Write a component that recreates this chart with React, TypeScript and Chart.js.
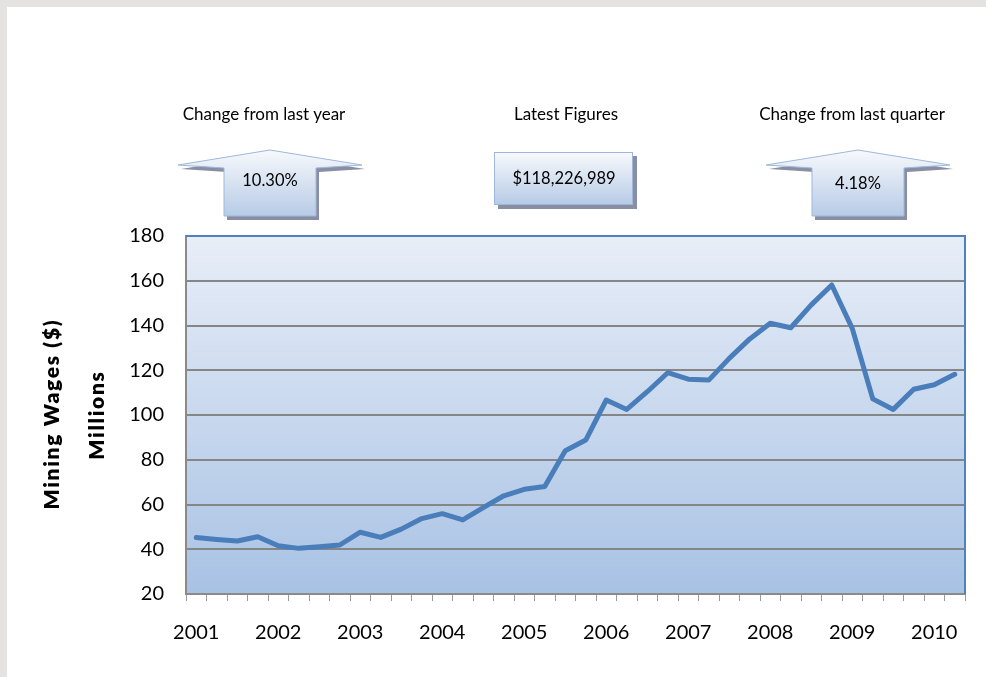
import React, { useEffect, useRef } from "react";
import { Chart, registerables } from "chart.js";

Chart.register(...registerables);

const years = ["2001", "2002", "2003", "2004", "2005", "2006", "2007", "2008", "2009", "2010"];
const quarters = ["Q1", "Q2", "Q3", "Q4"];
const numQuarters = 38;
const wages = [
  45.3, 44.4, 43.7, 45.6, 41.6, 40.4, 41.1, 41.9, 47.6, 45.3,
  49.0, 53.7, 55.9, 53.1, 58.6, 63.9, 66.8, 68.0, 84.0, 88.8,
  106.7, 102.5, 110.4, 118.9, 116.0, 115.6, 125.3, 134.0, 141.0, 139.0,
  149.2, 158.1, 138.7, 107.2, 102.5, 111.5, 113.5, 118.2,
];
const yMin = 20;
const yMax = 180;
const yStep = 20;
const yTitle = "Mining Wages ($)";
const yUnit = "Millions";
const kpiTitles = ["Change from last year", "Latest Figures", "Change from last quarter"];
const kpiValues = ["10.30%", "$118,226,989", "4.18%"];

const labels: string[] = [];
for (const y of years) for (const q of quarters) labels.push(y + " " + q);
labels.length = numQuarters;

const FONT = "Lato, 'Open Sans', sans-serif";

const bgPlugin = {
  id: "plotBg",
  beforeDraw(chart: any) {
    const { ctx, chartArea: a } = chart;
    if (!a) return;
    const g = ctx.createLinearGradient(0, a.top, 0, a.bottom);
    g.addColorStop(0, "#e8eef8");
    g.addColorStop(1, "#a8c2e4");
    ctx.save();
    ctx.fillStyle = g;
    ctx.fillRect(a.left, a.top, a.right - a.left, a.bottom - a.top);
    ctx.restore();
  },
  afterDraw(chart: any) {
    const { ctx, chartArea: a } = chart;
    ctx.save();
    ctx.strokeStyle = "#4f81bd";
    ctx.lineWidth = 2;
    ctx.beginPath();
    ctx.moveTo(a.left, a.top);
    ctx.lineTo(a.right, a.top);
    ctx.lineTo(a.right, a.bottom);
    ctx.stroke();
    ctx.restore();
  },
};

function UpArrow({ cx }: { cx: number }) {
  const tipY = 150, wingY = 165, innerY = 168, bottom = 216;
  const half = 46, wing = 92;
  const pts = (dx: number, dy: number) =>
    [
      [cx, tipY], [cx + wing, wingY], [cx + half, innerY], [cx + half, bottom],
      [cx - half, bottom], [cx - half, innerY], [cx - wing, wingY],
    ]
      .map(([x, y]) => `${x + dx},${y + dy}`)
      .join(" ");
  return (
    <g>
      <polygon points={pts(3, 4)} fill="#8a8ea2" />
      <polygon points={pts(0, 0)} fill="url(#kpiGrad)" stroke="#9db8dc" strokeWidth={1} />
    </g>
  );
}

export default function App() {
  const ref = useRef<HTMLCanvasElement | null>(null);

  useEffect(() => {
    if (!ref.current) return;
    const chart = new Chart(ref.current, {
      type: "line",
      data: {
        labels,
        datasets: [
          {
            data: wages,
            borderColor: "#4a7ebb",
            borderWidth: 5,
            pointRadius: 0,
            tension: 0,
            borderJoinStyle: "round",
            borderCapStyle: "round",
            fill: false,
          },
        ],
      },
      options: {
        responsive: false,
        animation: false,
        layout: { padding: { left: 0, top: 236, right: 21, bottom: 0 } },
        plugins: { legend: { display: false }, tooltip: { enabled: false }, title: { display: false } },
        scales: {
          x: {
            offset: true,
            grid: { offset: true, drawOnChartArea: false, drawTicks: true, tickLength: 7, color: "#9a9a9a", lineWidth: 1 },
            border: { color: "#8a8a8a", width: 2 },
            ticks: {
              autoSkip: false,
              maxRotation: 0,
              minRotation: 0,
              padding: 20,
              color: "#000",
              font: { family: FONT, size: 20 },
              callback: (_v: any, i: number) => (i % 4 === 0 ? years[i / 4] : ""),
            },
            afterFit: (s: any) => { s.height = 83; },
          },
          y: {
            min: yMin,
            max: yMax,
            grid: { color: "#868686", lineWidth: 2, drawTicks: false },
            border: { color: "#8a8a8a", width: 2 },
            ticks: {
              stepSize: yStep,
              padding: 22,
              color: "#000",
              font: { family: FONT, size: 20 },
            },
            afterFit: (s: any) => { s.width = 186; },
          },
        },
      },
      plugins: [bgPlugin],
    });
    return () => chart.destroy();
  }, []);

  const textBase: React.CSSProperties = {
    position: "absolute",
    transform: "translate(-50%, -50%)",
    whiteSpace: "nowrap",
    fontFamily: FONT,
    color: "#000",
  };
  const rot = "translate(-50%, -50%) rotate(-90deg)";

  return (
    <div style={{ position: "absolute", left: 0, top: 0, width: 986, height: 677, background: "#e4e3e1", overflow: "hidden" }}>
      <div style={{ position: "absolute", left: 7, top: 7, right: 0, bottom: 0, background: "#fff" }} />
      <canvas ref={ref} width={986} height={677} style={{ position: "absolute", left: 0, top: 0, width: 986, height: 677 }} />
      <svg width={986} height={677} style={{ position: "absolute", left: 0, top: 0 }}>
        <defs>
          <linearGradient id="kpiGrad" x1="0" y1="0" x2="0" y2="1">
            <stop offset="0" stopColor="#f7f9fc" />
            <stop offset="1" stopColor="#b7cbe6" />
          </linearGradient>
        </defs>
        <UpArrow cx={270} />
        <UpArrow cx={858} />
        <rect x={498} y={156} width={139} height={53} fill="#8a8ea2" />
        <rect x={494.5} y={152.5} width={138} height={52} fill="url(#kpiGrad)" stroke="#9db8dc" strokeWidth={1} />
      </svg>
      <div style={{ ...textBase, left: 264, top: 113, fontSize: 17 }}>{kpiTitles[0]}</div>
      <div style={{ ...textBase, left: 566, top: 113, fontSize: 17 }}>{kpiTitles[1]}</div>
      <div style={{ ...textBase, left: 852, top: 113, fontSize: 17 }}>{kpiTitles[2]}</div>
      <div style={{ ...textBase, left: 270, top: 180, fontSize: 16.5 }}>{kpiValues[0]}</div>
      <div style={{ ...textBase, left: 564, top: 178, fontSize: 16.5 }}>{kpiValues[1]}</div>
      <div style={{ ...textBase, left: 858, top: 183, fontSize: 16.5 }}>{kpiValues[2]}</div>
      <div style={{ ...textBase, left: 50, top: 414, fontSize: 21, fontWeight: 800, letterSpacing: 1.7, transform: rot }}>{yTitle}</div>
      <div style={{ ...textBase, left: 95, top: 415, fontSize: 21, fontWeight: 800, letterSpacing: 1.7, transform: rot }}>{yUnit}</div>
    </div>
  );
}
